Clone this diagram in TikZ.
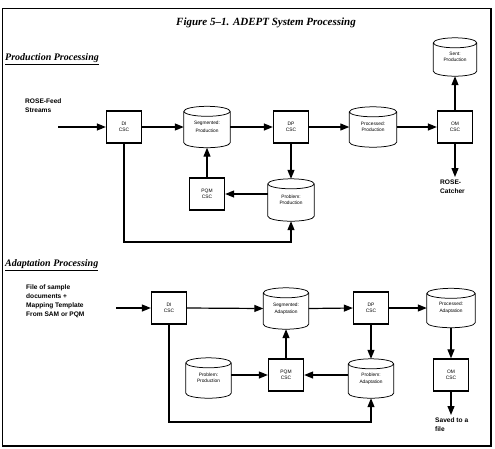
\documentclass[tikz,border=0pt]{standalone}
\usepackage{fontspec}
\setmainfont{Liberation Serif}
\setsansfont{Liberation Sans}
\usetikzlibrary{arrows.meta,shadows,calc}
\newcommand\cyltxt[2]{\raisebox{-2.5pt}{\shortstack{#1\\#2}}}
\newcommand\cylout[1]{%
  \draw[cylline] let \p1=(#1.west), \p2=(#1.east), \n1={0.5*(\x2-\x1)} in
    ([yshift=-5pt]#1.north west) -- ([yshift=5pt]#1.south west)
    arc[start angle=180, end angle=360, x radius=\n1, y radius=5pt]
    -- ([yshift=-5pt]#1.north east)
    ([yshift=-5pt]#1.north) ellipse[x radius=\n1, y radius=5pt];}
\begin{document}
\begin{tikzpicture}[x=1pt,y=-1pt,
  csc/.style={draw, line width=1.3pt, minimum width=35pt, minimum height=32pt, inner sep=0pt,
    fill=white, align=center, font=\sffamily\fontsize{4.9}{5.6}\selectfont,
    drop shadow={shadow xshift=0.8pt, shadow yshift=-1.3pt, fill=black!30, opacity=0.6}},
  cyl/.style={minimum width=46pt, minimum height=41pt, inner sep=0pt,
    font=\sffamily\fontsize{4.8}{5.6}\selectfont},
  cylline/.style={line width=0.75pt},
  conn/.style={line width=1.2pt, -{Triangle[length=9pt,width=7pt]}},
  lbl/.style={align=left, inner sep=0pt, font=\sffamily\bfseries\fontsize{6.6}{9}\selectfont},
  heading/.style={anchor=west, inner sep=0pt, font=\bfseries\itshape\fontsize{10}{12}\selectfont}]
\useasboundingbox (0,0) rectangle (495,448);
\draw[line width=1.2pt] (2.5,8.5) rectangle (491,446);

\node[font=\bfseries\itshape\fontsize{11}{13}\selectfont] (title) at (266,23) {Figure 5–1. ADEPT System Processing};

% ---------------- Production Processing
\node[heading] (hprod) at (5,59) {\underline{Production Processing}};
\node[lbl, anchor=north west] (feed) at (25,99) {ROSE-Feed\\Streams};
\coordinate (feedIn) at (58,127);

\node[csc] (diP) at (124,127) {DI\\CSC};
\node[cyl] (segP) at (207,127) {\cyltxt{Segmented:}{Production}};
\node[csc] (pqmP) at (207,194) {PQM\\CSC};
\node[csc] (dpP) at (291,127) {DP\\CSC};
\node[cyl, minimum width=47pt, minimum height=40pt] (procP) at (373,127) {\cyltxt{Processed:}{Production}};
\node[csc] (omP) at (455,127) {OM\\CSC};
\node[cyl, minimum width=43pt, minimum height=38pt] (sentP) at (455,57) {\cyltxt{Sent:}{Production}};
\node[cyl, minimum height=42pt] (probP) at (291,200) {\cyltxt{Problem:}{Production}};
\foreach \c in {segP,procP,sentP,probP} {\cylout{\c}}

\draw[conn] (feedIn) -- (diP.west);
\draw[conn] (diP.east) -- (segP.west);
\draw[conn] (segP.east) -- (dpP.west);
\draw[conn] (dpP.east) -- (procP.west);
\draw[conn] (procP.east) -- (omP.west);
\draw[conn] (omP.north) -- (sentP.south);
\draw[conn] (pqmP.north) -- (segP.south);
\draw[conn] (dpP.south) -- (probP.north);
\draw[conn] (probP.west |- pqmP.east) -- (pqmP.east);
\coordinate (cornerP) at (291,242);
\draw[conn] (diP.south) |- (cornerP) -- (probP.south);
\coordinate (catchEnd) at (455,177);
\draw[conn] (omP.south) -- (catchEnd);
\node[lbl, anchor=north west] (catcher) at (440,180) {ROSE-\\Catcher};

% ---------------- Adaptation Processing
\node[heading] (hadapt) at (5,265) {\underline{Adaptation Processing}};
\node[lbl, anchor=north west] (file) at (26,285) {File of sample\\documents +\\Mapping Template\\From SAM or PQM};
\coordinate (fileIn) at (116,308);

\node[csc] (diA) at (169,308) {DI\\CSC};
\node[cyl, minimum width=45pt] (segA) at (286,308.5) {\cyltxt{Segmented:}{Adaptation}};
\node[csc] (dpA) at (371,308) {DP\\CSC};
\node[cyl, minimum width=48pt, minimum height=39pt] (procA) at (451,308) {\cyltxt{Processed:}{Adaptation}};
\node[csc] (omA) at (451,375) {OM\\CSC};
\node[csc] (pqmA) at (286,375) {PQM\\CSC};
\node[cyl, minimum width=45pt, minimum height=39pt] (probA) at (371,378.5) {\cyltxt{Problem:}{Adaptation}};
\node[cyl, minimum width=45pt, minimum height=40pt] (probPA) at (208.5,378) {\cyltxt{Problem:}{Production}};
\foreach \c in {segA,procA,probA,probPA} {\cylout{\c}}

\draw[conn] (fileIn) -- (diA.west);
\draw[conn] (diA.east) -- (segA.west);
\draw[conn] (segA.east) -- (dpA.west);
\draw[conn] (dpA.east) -- (procA.west);
\draw[conn] (procA.south) -- (omA.north);
\draw[conn] (pqmA.north) -- (segA.south);
\draw[conn] (dpA.south) -- (probA.north);
\draw[conn] (probA.west |- pqmA.east) -- (pqmA.east);
\draw[conn] (probPA.east |- pqmA.west) -- (pqmA.west);
\coordinate (cornerA) at (371,422);
\draw[conn] (diA.south) |- (cornerA) -- (probA.south);
\coordinate (savedEnd) at (451,415);
\draw[conn] (omA.south) -- (savedEnd);
\node[lbl, anchor=north west] (saved) at (435,418) {Saved to a\\file};
\end{tikzpicture}
\end{document}
